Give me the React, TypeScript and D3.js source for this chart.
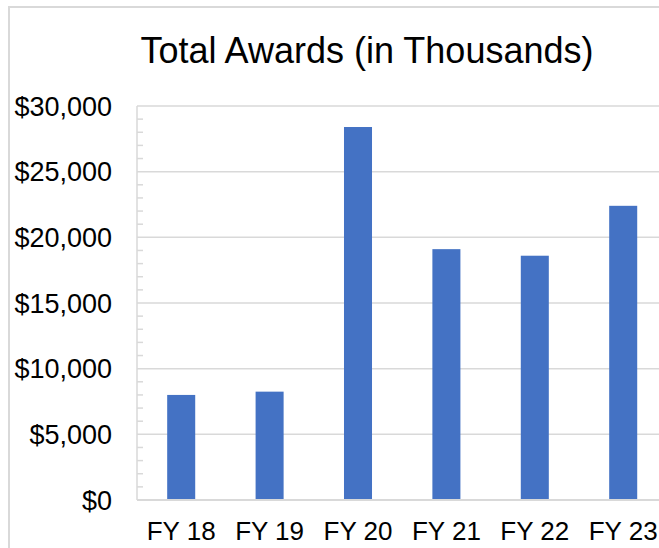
import { useEffect, useRef } from 'react';
import * as d3 from 'd3';

const years = ['FY 18', 'FY 19', 'FY 20', 'FY 21', 'FY 22', 'FY 23'];
const awards = [8000, 8250, 28400, 19100, 18600, 22400];
const yTicks = [0, 5000, 10000, 15000, 20000, 25000, 30000];
const title = 'Total Awards (in Thousands)';

export default function App() {
  const svgRef = useRef<SVGSVGElement>(null);

  useEffect(() => {
    if (!svgRef.current) return;
    const W = 659;
    const H = 548;
    const left = 137;
    const step = 88.4;
    const top = 106;
    const bottom = 500;

    d3.select(svgRef.current).selectAll('*').remove();
    const svg = d3.select(svgRef.current)
      .attr('width', W)
      .attr('height', H);

    svg.append('rect')
      .attr('width', W)
      .attr('height', H)
      .attr('fill', '#fff');

    // chart frame (cut off at right and bottom)
    svg.append('path')
      .attr('d', `M9,${H + 5}V7H${W + 5}`)
      .attr('fill', 'none')
      .attr('stroke', '#d9d9d9')
      .attr('stroke-width', 2);

    const x = d3.scaleBand()
      .domain(years)
      .range([left, left + step * years.length])
      .paddingInner(0.683)
      .paddingOuter(0.3415);

    const y = d3.scaleLinear()
      .domain([0, 30000])
      .range([bottom, top]);

    const font = 'Arial, "Liberation Sans", sans-serif';

    svg.append('text')
      .attr('x', 367)
      .attr('y', 63)
      .attr('text-anchor', 'middle')
      .style('font-family', font)
      .style('font-size', '36px')
      .attr('fill', '#000')
      .text(title);

    // gridlines
    svg.append('g')
      .selectAll('line')
      .data(yTicks.slice(1))
      .enter()
      .append('line')
      .attr('x1', left)
      .attr('x2', W)
      .attr('y1', d => y(d))
      .attr('y2', d => y(d))
      .attr('stroke', '#d9d9d9')
      .attr('stroke-width', 1.5);

    // minor ticks
    svg.append('g')
      .selectAll('line')
      .data(d3.range(1000, 30000, 1000).filter(v => v % 5000 !== 0))
      .enter()
      .append('line')
      .attr('x1', left)
      .attr('x2', left + 6)
      .attr('y1', d => y(d))
      .attr('y2', d => y(d))
      .attr('stroke', '#d9d9d9')
      .attr('stroke-width', 1.5);

    // y axis line
    svg.append('line')
      .attr('x1', left)
      .attr('x2', left)
      .attr('y1', top)
      .attr('y2', bottom)
      .attr('stroke', '#d9d9d9')
      .attr('stroke-width', 1.5);

    // bars
    svg.append('g')
      .selectAll('rect')
      .data(awards)
      .enter()
      .append('rect')
      .attr('x', (_, i) => x(years[i]) || 0)
      .attr('y', d => y(d))
      .attr('width', x.bandwidth())
      .attr('height', d => bottom - y(d))
      .attr('fill', '#4472C4');

    // x axis baseline
    svg.append('line')
      .attr('x1', left)
      .attr('x2', W)
      .attr('y1', bottom)
      .attr('y2', bottom)
      .attr('stroke', '#d9d9d9')
      .attr('stroke-width', 2);

    // y labels
    svg.append('g')
      .selectAll('text')
      .data(yTicks)
      .enter()
      .append('text')
      .attr('x', 112)
      .attr('y', d => y(d))
      .attr('dy', '0.36em')
      .attr('text-anchor', 'end')
      .style('font-family', font)
      .style('font-size', '27px')
      .attr('fill', '#000')
      .text(d => '$' + d3.format(',')(d));

    // x labels
    svg.append('g')
      .selectAll('text')
      .data(years)
      .enter()
      .append('text')
      .attr('x', d => (x(d) || 0) + x.bandwidth() / 2)
      .attr('y', 540)
      .attr('text-anchor', 'middle')
      .style('font-family', font)
      .style('font-size', '26px')
      .attr('fill', '#000')
      .text(d => d);
  }, []);

  return (
    <div style={{ position: 'fixed', left: 0, top: 0 }}>
      <svg ref={svgRef} style={{ display: 'block' }} />
    </div>
  );
}
